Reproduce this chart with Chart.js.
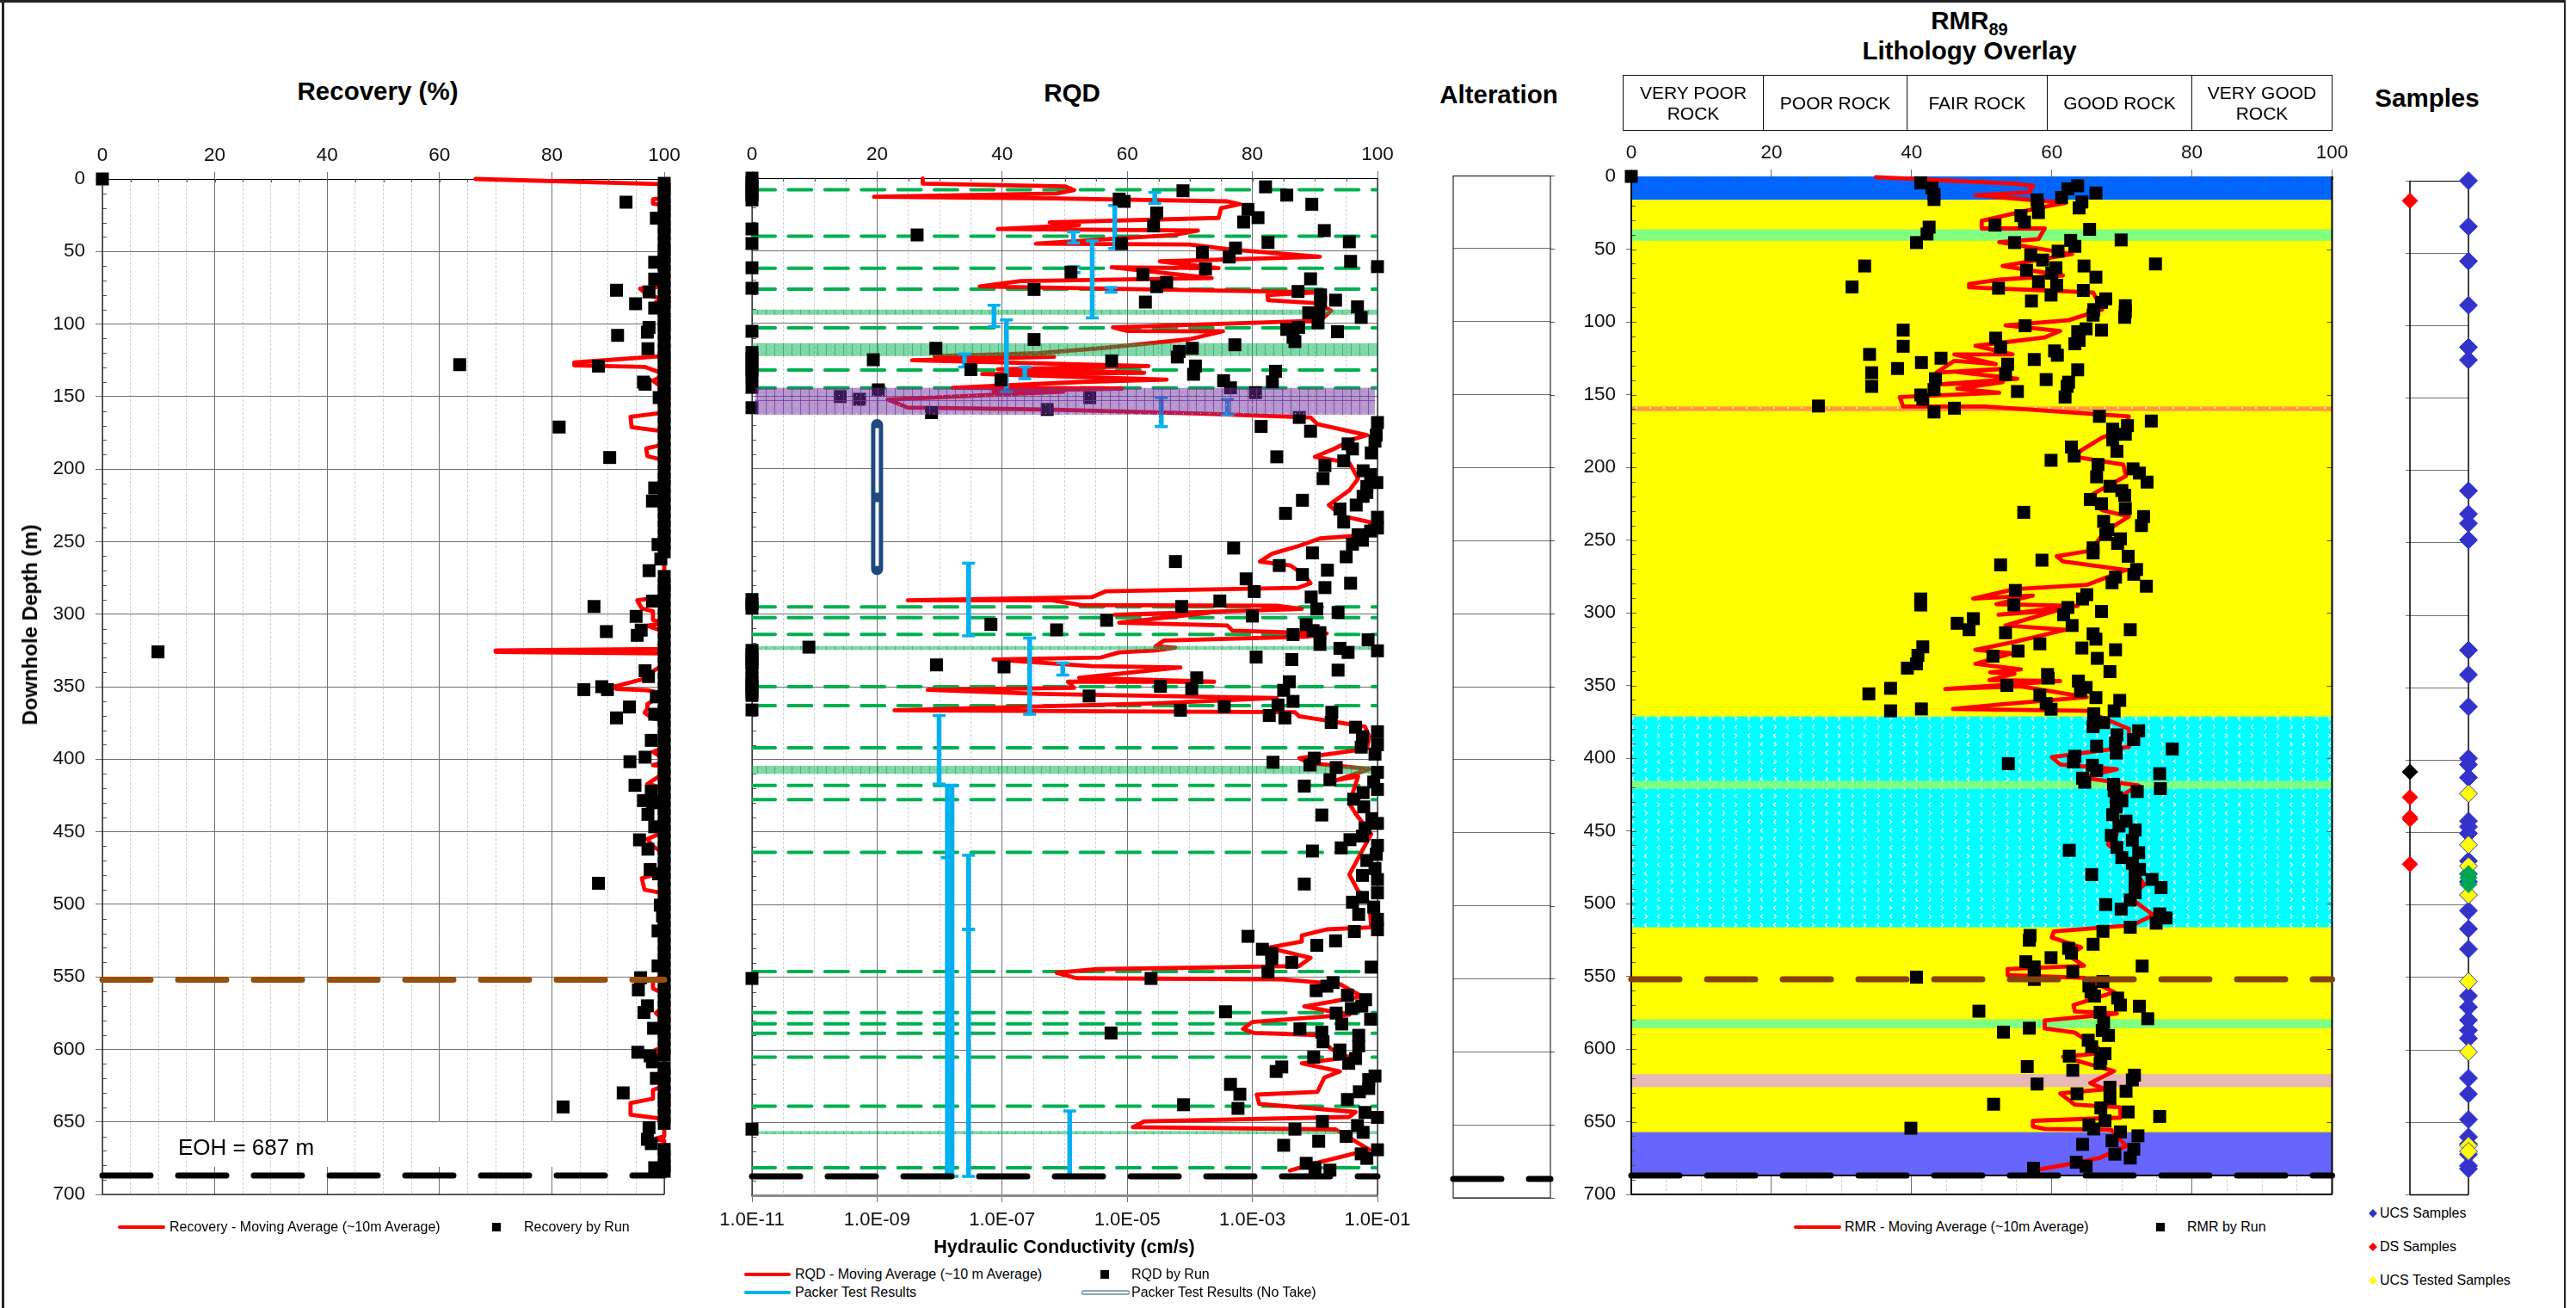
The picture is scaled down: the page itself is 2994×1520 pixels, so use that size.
<!DOCTYPE html>
<html>
<head>
<meta charset="utf-8">
<title>Drillhole log</title>
<script src="https://cdn.jsdelivr.net/npm/chart.js@4"></script>
<style>
  html, body { margin: 0; padding: 0; background: #fff; }
  #page { position: relative; width: 2994px; height: 1520px; overflow: hidden; font-family: "Liberation Sans", Arial, sans-serif; color: #000; }
  canvas { position: absolute; }
  .t { position: absolute; white-space: nowrap; transform: translate(-50%, -50%); text-align: center; }
  .title { font-weight: bold; font-size: 29.5px; }
  .leg { position: absolute; white-space: nowrap; font-size: 16px; line-height: 16px; transform: translateY(-50%); }
  .ln { position: absolute; height: 4px; border-radius: 2px; transform: translateY(-50%); }
  .sq { position: absolute; width: 10px; height: 10px; background: #000; transform: translate(-50%, -50%); }
  .di { position: absolute; width: 7px; height: 7px; transform: translate(-50%, -50%) rotate(45deg); }
  .cell { position: absolute; top: 87px; height: 65px; box-sizing: border-box; font-size: 21px; line-height: 24px; display: flex; align-items: center; justify-content: center; text-align: center; border: 1.5px solid #111; }
</style>
</head>
<body>
<div id="page">
  <!-- outer frame -->
  <div style="position:absolute;left:2px;top:0;width:2.5px;height:1520px;background:#222"></div>
  <div style="position:absolute;left:0;top:0;width:2982px;height:3px;background:#222"></div>
  <div style="position:absolute;left:2980px;top:0;width:2px;height:1520px;background:#222"></div>

  <canvas id="recoveryChart" width="770" height="1270" style="left:40px;top:150px"></canvas>
  <canvas id="rqdChart" width="820" height="1300" style="left:820px;top:150px"></canvas>
  <canvas id="alterationChart" width="140" height="1210" style="left:1680px;top:190px"></canvas>
  <canvas id="rmrChart" width="900" height="1250" style="left:1830px;top:150px"></canvas>
  <canvas id="samplesChart" width="110" height="1210" style="left:2780px;top:190px"></canvas>

  <!-- titles -->
  <div class="t title" style="left:439px;top:106px">Recovery (%)</div>
  <div class="t title" style="left:1246px;top:108px">RQD</div>
  <div class="t title" style="left:1742px;top:110px">Alteration</div>
  <div class="t title" style="left:2289px;top:24px">RMR<sub style="font-size:20px;line-height:0">89</sub></div>
  <div class="t title" style="left:2289px;top:59px">Lithology Overlay</div>
  <div class="t title" style="left:2821px;top:114px">Samples</div>
  <div class="t" style="left:35px;top:726px;font-weight:bold;font-size:24px;transform:translate(-50%,-50%) rotate(-90deg)">Downhole Depth (m)</div>
  <div class="t" style="left:286px;top:1333px;font-size:26px">EOH = 687 m</div>
  <div class="t" style="left:1237px;top:1449px;font-weight:bold;font-size:21.5px">Hydraulic Conductivity (cm/s)</div>

  <!-- rock class boxes -->
  <div class="cell" style="left:1886px;width:164px">VERY POOR<br>ROCK</div>
  <div class="cell" style="left:2049px;width:168px">POOR ROCK</div>
  <div class="cell" style="left:2216px;width:164px">FAIR ROCK</div>
  <div class="cell" style="left:2379px;width:169px">GOOD ROCK</div>
  <div class="cell" style="left:2547px;width:164px">VERY GOOD<br>ROCK</div>

  <!-- legends -->
  <div class="ln" style="left:137px;top:1426px;width:55px;background:#f00"></div>
  <div class="leg" style="left:197px;top:1426px">Recovery - Moving Average (~10m Average)</div>
  <div class="sq" style="left:577px;top:1426px"></div>
  <div class="leg" style="left:609px;top:1426px">Recovery by Run</div>

  <div class="ln" style="left:865px;top:1481px;width:54px;background:#f00"></div>
  <div class="leg" style="left:924px;top:1481px">RQD - Moving Average (~10 m Average)</div>
  <div class="sq" style="left:1284px;top:1481px"></div>
  <div class="leg" style="left:1315px;top:1481px">RQD by Run</div>
  <div class="ln" style="left:865px;top:1502px;width:54px;background:#00b0f0"></div>
  <div class="leg" style="left:924px;top:1502px">Packer Test Results</div>
  <div class="ln" style="left:1257px;top:1502px;width:54px;height:3px;background:#fff;border:1.5px solid #1f497d"></div>
  <div class="leg" style="left:1315px;top:1502px">Packer Test Results (No Take)</div>

  <div class="ln" style="left:2085px;top:1426px;width:55px;background:#f00"></div>
  <div class="leg" style="left:2144px;top:1426px">RMR - Moving Average (~10m Average)</div>
  <div class="sq" style="left:2511px;top:1426px"></div>
  <div class="leg" style="left:2542px;top:1426px">RMR by Run</div>

  <div class="di" style="left:2758px;top:1410px;background:#3333cc"></div>
  <div class="leg" style="left:2766px;top:1410px">UCS Samples</div>
  <div class="di" style="left:2758px;top:1449px;background:#f00"></div>
  <div class="leg" style="left:2766px;top:1449px">DS Samples</div>
  <div class="di" style="left:2758px;top:1488px;background:#ff0"></div>
  <div class="leg" style="left:2766px;top:1488px">UCS Tested Samples</div>
</div>

<script>
// Depth marks shared by the panels (m)
const eohDepth = 687;
const contactDepth = 552;

// Recovery: [recovery %, depth]
const recoveryRuns = [[0,0],[93.2,16],[98.6,27],[98.3,57.4],[98.3,69],[91.5,76.7],[97.3,77.8],[94.9,86],[98.3,89],[97.3,102.3],[97,105.6],[91.7,107.8],[97.1,117],[63.6,128],[88.3,129],[96.3,140],[96.6,141.5],[99.1,150.7],[81.3,171],[90.3,192],[98.3,213],[97.9,222],[98.9,252],[99.4,262],[97.3,270],[97.9,291],[87.5,294.7],[95,301.5],[95.9,311],[89.7,312],[95.2,314.6],[9.9,326],[96.6,339],[97.2,343],[85.7,352],[88.9,350],[89.9,352],[98.6,357],[93.8,364],[98.3,369],[91.5,371.5],[97.7,387],[96.6,398.6],[93.9,401.7],[94.8,418],[97.7,422],[96.3,428.5],[97.9,430],[97.1,438],[98.3,446.6],[95.6,455.6],[97.1,462],[97.5,476],[99,479],[88.3,485.5],[99.3,500.6],[99.7,508],[98.9,518.4],[98.9,542.5],[95.8,550.6],[95.4,559],[97,570],[96.4,574.6],[98.1,585.5],[95.3,602],[97.5,604.5],[97.9,608.6],[98.6,620],[92.7,630],[82,639.7],[97.3,654],[97,662],[97.7,665],[98.3,681.6]];
// runs with full recovery, depth only
const recoveryFullDepths = [3,7,12,18,22,28,33,38,44,49,53,59,64,70,75,81,85,91,97,101,106,112,118,123,127,133,137,143,148,153,158,164,169,175,180,186,191,196,202,207,212,218,224,229,235,240,246,251,257,274,280,284,290,296,301,307,312,318,323,329,334,340,345,351,356,362,367,373,378,384,390,395,400,406,411,417,423,428,434,439,445,450,456,461,467,472,478,483,489,495,500,505,511,516,522,528,533,538,544,549,555,560,566,571,577,582,588,593,599,604,613,618,624,630,635,640,646,651,669,674,680,684];
const recoveryAverage = [[66.4,0],[99,3.5],[100,5],[100,13],[98,14],[98,17],[100,18],[100,74],[95.7,75.6],[97,80],[100,83],[98.5,85],[100,88],[100,122],[84,126.5],[84,128.5],[96.5,129.5],[99,133],[100,135],[98,139],[99,142],[100,145],[100,161],[94,164],[94.2,171],[100,174],[100,183],[96.8,185.8],[97,191],[100,194],[100,288],[95.2,290.4],[96,296],[98,298],[98,304],[100,306],[97,308],[100,312],[100,324],[70,325],[70,326],[100,327],[100,335],[98.5,338],[96,345],[91,350],[91.5,351.5],[97,352.5],[99,354],[100,355],[97,362],[97,365],[96.5,368],[98,372],[100,373],[100,392],[98,395],[100,400],[100,402],[98,404],[100,405],[99,412],[97,417],[100,420],[100,450],[97,455],[98,460],[100,465],[100,478],[96,482],[96.5,490],[100,492.5],[100,548],[98,553],[98,558],[100,562],[100,570],[98.5,575],[100,580],[100,598],[97.5,602],[100,605],[100,625],[98,628],[98,634],[94,637],[94,645],[100,648],[100,660],[98,662],[100,663],[100,687]];

// RQD: [rqd %, depth]
const rqdRuns = [[82.1,6],[85.5,11.7],[89.5,18],[68.9,8.7],[58.7,14.4],[59.5,16],[79.3,21.5],[64.7,24],[80.9,27.2],[78.6,30.2],[64.2,32.9],[26.4,39.1],[91.5,36.1],[95.5,43.8],[82.5,44.3],[59.1,45.1],[77.3,48.1],[72,51.1],[76.3,54.3],[95.7,57.3],[100,60.9],[51,64.7],[72.5,62.5],[62.5,66.3],[89.3,69.3],[66.3,71.7],[64.7,74.7],[45.1,76.6],[87.3,78],[62.9,85.3],[90.9,80.4],[93.3,84],[90.9,85.3],[96.8,88.6],[97.4,95.9],[89,92.7],[90.6,92.7],[90.5,99.5],[87.4,102.7],[85.5,104.1],[93.6,105.7],[45.1,111.1],[86.5,109.5],[86.8,112.5],[77.2,114.7],[29.4,117.1],[70.4,117.1],[68.3,119.3],[68,123.1],[19.4,125],[57.5,125.8],[70.9,129.3],[35,131.8],[70.6,135],[83.7,132.9],[39.8,138.9],[83.2,140.2],[75.4,139.4],[76.5,144.3],[20.2,145.7],[14.1,150.3],[17.2,152.2],[54,151.1],[80.5,147.6],[47.2,159.2],[28.7,161.4],[87.5,164.7],[81.4,170.9],[89.3,174.2],[100,168.2],[99.8,176.9],[99.6,181],[95.3,182.9],[96,186.4],[99,189.1],[83.9,191.8],[94.6,194.6],[91.6,197.8],[91.3,206.8],[97.7,201.4],[98.9,204.1],[99.9,209.5],[98.3,212.2],[98.3,216.3],[97.7,219],[88,221.7],[96.6,225],[94,227.7],[85.3,230.7],[100,233.4],[94.6,236.7],[100,240.8],[98.9,242.9],[96.9,245.4],[97.6,249.2],[96,251.9],[77,254.6],[89.6,257.9],[95,260.6],[67.7,263.9],[84.3,266.6],[92,269.8],[88,272.8],[79,275.8],[95.7,278.8],[91.6,281.8],[80.3,284.5],[89.4,288.3],[74.8,291],[68.7,294.8],[90.3,296.5],[93.7,298.9],[80,301.4],[56.7,304.3],[38.2,307.1],[88.6,307.3],[48.7,310.9],[89.7,311.4],[86.5,314.1],[90.8,312.8],[90.8,320.9],[98.5,317.7],[94,323.6],[95.3,326.4],[100,325.3],[9.1,322.8],[80.6,329.6],[86.3,331.3],[29.5,335],[40.3,336.4],[93.7,338.6],[71.1,343.9],[85.9,346.6],[65.3,349.7],[70.3,351.4],[85,352.5],[53.9,356.4],[86.5,360.1],[84.1,362.6],[75.5,363.7],[68.5,366.2],[82.7,369.8],[85.2,371.5],[92.7,367.6],[92.6,374.6],[96.5,377.9],[100,381],[97.6,384.4],[97.4,391.6],[100,389.9],[99.6,396.4],[89.9,399.2],[83.3,402],[89.2,403.9],[93.4,405.6],[100,408.9],[92.4,414],[99.4,415.6],[88.3,418.4],[100,420.7],[97.7,422.9],[96.2,427.4],[97.8,432.7],[91.1,438.3],[99.1,440.8],[100,444.1],[98,447.2],[97.6,452.8],[95.6,455.3],[94.2,460.9],[100,459.2],[89.6,463.1],[99.8,465.4],[98.3,469.6],[99.6,475.1],[97.6,479.9],[88.3,485.8],[100,482.7],[100,491.9],[97.6,495],[96,498.3],[99.4,501.7],[97,506.7],[100,510.1],[100,517.3],[96.3,518.5],[79.3,521.8],[93.3,524.9],[90.3,528],[81.6,530.7],[83.1,533.5],[83.1,537.4],[86.3,539.7],[99,543],[82.5,546.4],[63.8,550.8],[92.9,553.6],[91.9,556.1],[90.2,559.2],[95.2,562.3],[98.1,565.4],[97.5,569.8],[95.8,571.5],[75.7,573.7],[93.4,574.6],[98.9,578.8],[94.3,582.1],[87.6,585.5],[57.4,588.3],[91.1,587.7],[91.3,594.4],[97,589.9],[97,597.2],[94,600],[93.9,602.8],[89.8,605],[96.5,605.9],[95.4,609.2],[84.7,611.7],[83.8,614.8],[99.6,617.9],[98.6,620.4],[76.5,623.7],[98.6,626.5],[78,630.4],[97.1,628.8],[95.2,634.1],[69,637.7],[77.7,640.2],[98,643],[100,646.4],[91.2,649.2],[96.8,652],[86.8,654.5],[97.7,656.7],[95,659.5],[90.6,662.8],[85,665.6],[100,668.7],[97.4,671.5],[98.3,674.6],[88.6,678],[90,681],[92.4,682.7]];
const rqdZeroDepths = [0,3,6,9,12,15,35,45,61.7,75.8,105.4,120,124,128,132,136,144,158,290,293,296,325,328,331,334,337,344,347,350,353,356,366,550.8,654.5];
const rqdAverage = [[27.3,0.3],[27.3,3.8],[50.1,5.7],[51.5,8.2],[48.7,10.6],[19.5,12.8],[48.7,14],[76,16],[78,17.9],[75,20.7],[74.6,27.4],[47.6,30.4],[52.3,32.3],[39.3,35],[71.3,36.1],[67.4,39.1],[45.4,45.1],[69.9,45.7],[76.8,49.2],[90.8,54.1],[65.2,57.3],[74.6,62],[57.5,61.4],[73.5,68.8],[42.9,70.9],[36.4,74.5],[82.1,78],[90.6,78.5],[82.4,80.4],[82.5,84],[90.4,86.1],[92.6,91.3],[90.8,98.1],[57.7,102.7],[60,105.2],[75.3,105.4],[69.9,110.9],[55.8,117],[45.8,120.4],[29.2,122.6],[48.3,123],[25.6,125.3],[63.4,129.3],[39.3,131.5],[62.7,134],[36.8,134.8],[66.3,138.6],[53,140.2],[32.1,144.3],[59.1,144.8],[38.6,146.5],[49.8,147],[21.7,152.4],[24.9,157.9],[47.2,159.2],[71.7,162],[89.3,164.7],[90.4,169.3],[98.3,176.9],[96.2,179.6],[93,186.4],[90,191.8],[95.5,195.9],[96.9,206.8],[95.5,214.9],[92.2,225],[94.4,232.6],[98.7,236.7],[99,240.8],[96.5,246.2],[90.8,248],[87.5,253],[83.2,258.4],[81.2,263.9],[86.1,266.6],[88.3,273.4],[89.3,278.8],[87.2,282],[56.6,284.3],[54.4,288.3],[24.9,290.5],[48,290.5],[52.6,293.8],[83.9,294.3],[87.9,296.5],[58,300.5],[73.1,299.2],[58.7,306],[76,307.9],[76.8,311.4],[91.9,313.3],[89,315.5],[65.9,318.2],[64.5,322.3],[67.7,323.1],[64.5,325],[58.7,326.4],[55.8,329.9],[38.6,331.3],[54.4,335.9],[68.5,336.7],[52.3,343.9],[73.9,346.6],[50.5,346.6],[51.5,350.8],[28.1,352.2],[46.1,355],[83.9,357.8],[64.5,361.5],[22.8,366.2],[57.3,367],[86.8,367.6],[87.5,370.4],[98,377.4],[98.7,384.4],[98.3,392.7],[87.5,399.2],[89,402.5],[98.7,406.7],[93.3,414.5],[96.9,411.7],[95.5,430.4],[96.5,437.4],[99,451.4],[95.5,479.3],[96.9,490.5],[98.7,498.9],[99,515.6],[91.9,517],[87.9,521.2],[87.9,525.4],[82.5,529.6],[89.3,536.6],[87.5,542.2],[55.2,544.4],[48.7,546.9],[51.9,550.6],[84.7,551.4],[94,554.7],[97.5,563.1],[88.3,570.1],[95.5,575.7],[80,580.7],[78.5,585.5],[80.3,588.3],[90.4,589.7],[92.6,599.4],[95.5,605],[87.9,609.2],[94,614.8],[91.5,619],[90.4,628.8],[80.7,630.7],[81.1,637.2],[96.5,642.7],[95.5,646.1],[62.7,649.2],[60.9,653.1],[93.3,654.7],[98.7,668.7],[90.4,677.6],[86,683]];

// Structures logged in the RQD panel (depth, m)
const faultDepths = [8,40,62,76.4,103,132,144.3,295,302.5,314,350,363,392,418,427.7,464,546,574.3,582,588.5,605,638.7,681];
const faultZoneFrom = [90.5,113.6,322,404.5,655.8];
const faultZoneTo = [94,122.5,324.7,410,658];
const alteredFrom = 144.3;
const alteredTo = 162.8;

// Packer tests: conductivity (cm/s) and interval (m)
const kTicks = [1e-11,1e-9,1e-7,1e-5,1e-3,1e-1];
const kTickLabels = ['1.0E-11','1.0E-09','1.0E-07','1.0E-05','1.0E-03','1.0E-01'];
const packerK = [2.75e-5,6.3e-6,1.38e-6,2.75e-6,1.41e-6,5.5e-6,7.4e-8,1.17e-7,2.5e-8,2.3e-7,3.5e-5,4e-4,2.9e-8,2.75e-7,9.3e-7,9.8e-9,1.33e-8,1.33e-8,1.58e-8,2.9e-8,2.9e-8,1.2e-6];
const packerFrom = [9.8,18.8,37,43.2,61,75.3,87.5,97.6,121,130,151,152.4,265,316.5,333.7,369.8,418,467.6,418,466,517,642];
const packerTo = [17.4,48.4,44.6,96.2,65,78.5,102.2,147,130,138,171,162.8,315,369,342,417,467.6,687,687,517,687,687];
const noTakeK = 1e-9;
const noTakeDepths = [170,219.8,269];
const noTakeInnerFrom = [172,223];
const noTakeInnerTo = [216.5,267];

// RMR: [rmr, depth]
const rmrRuns = [[0,0],[41.3,4.4],[63.7,6.5],[42.9,7.9],[62.3,8.5],[66.3,11.4],[43.2,12.3],[61.4,14.4],[43.2,15.9],[57.9,16.1],[64.3,17.6],[63.9,21.7],[58,19.7],[58.1,24.9],[55.6,27],[56.1,31.4],[42.5,34.9],[51.9,33.5],[65.4,36.4],[42.2,39.6],[62.7,44],[69.9,43.7],[54.7,45.5],[40.7,45.5],[63.3,48.1],[60.9,51.4],[57,54],[58.7,57.5],[33.3,61.6],[74.8,60.2],[64.6,61.6],[60.6,62.8],[56.4,64.6],[60,66.6],[66.3,69.3],[58.1,72.5],[60.7,74.8],[31.5,76],[52.4,76.9],[64.5,78.4],[59.9,81.6],[67.7,84.2],[67.1,86.6],[57.1,85.7],[70.5,88.9],[66,91.6],[70.5,93],[65.9,95.4],[70.4,96.9],[56.2,102.7],[64.9,104.8],[38.8,105.7],[67.1,105.7],[63.7,106.8],[52,111.2],[63.9,112.7],[63.3,115.1],[38.8,116.8],[52.7,117.4],[60.4,120],[60.8,123],[34,122.4],[44.2,125],[57.5,125.9],[41.4,128],[53.7,129.1],[38,132.1],[63.7,133],[34.3,135],[53.4,136.2],[43.4,139.1],[59.2,139.7],[62.4,141.5],[34.3,144.4],[62.2,144.4],[43.2,146.5],[55.1,147.9],[61.9,151.7],[41.3,150.3],[41.6,153.2],[26.7,157.9],[46.1,159.4],[43.2,162],[66.8,165],[74.2,168.2],[70.8,171.4],[68.7,173.8],[70.5,177.3],[68.7,181.1],[62.8,186.1],[69.3,189],[63.2,192.3],[59.9,195.2],[66.6,198.1],[71.6,201.1],[72.5,204],[66.4,206.6],[73.6,210.2],[68.3,213.1],[70,216],[70.4,219.3],[65.5,222.2],[67.1,225.1],[70.5,228.4],[56,231],[73.1,233.9],[67.4,237.2],[72.8,240.1],[68,243],[67.7,246.3],[69.8,249.2],[69.4,252.4],[65.9,255.4],[65.9,258.9],[70.9,261.2],[58.6,263.9],[52.7,267.1],[72.1,270.3],[71.7,273.6],[69.1,275.6],[68.6,279.4],[73.5,281.8],[54.8,284.7],[65,287.6],[64.4,290.6],[41.3,290.6],[41.3,294.7],[54.6,294.7],[62.3,296.4],[67.1,299.1],[61.7,301.4],[48.8,304.1],[46.5,307.3],[62.9,308.8],[48.2,311.7],[71.2,311.7],[53.4,313.8],[65.9,314.6],[66.3,318.2],[58.3,321.4],[41.6,323.5],[64.3,324.3],[69.1,325.5],[55.2,326.4],[40.9,329.3],[51.6,329.9],[66.5,331.4],[40.7,335.2],[39.4,338.1],[68.3,340.5],[59.4,342.5],[59.5,345],[63.8,347],[64.9,351.4],[53.6,350],[37,352],[64.1,353.9],[33.9,355.8],[58.3,356.7],[66.3,358.4],[69.7,360.3],[59.2,362.5],[59.9,366.4],[37,367.5],[41.4,366.2],[68.9,367.5],[66,369.5],[66,373.7],[67.4,375.6],[65.9,378.4],[72.4,381.2],[69.3,384],[71.7,387.3],[69.1,389.6],[77.2,393.7],[66.4,391.8],[69.2,396.5],[63.3,398.7],[63.1,402.6],[53.8,403.8],[65.8,404.9],[66.4,408.5],[75.4,410.7],[64.4,413.8],[64.7,416.6],[68.8,418],[75.5,421],[72.2,423],[68.9,422.4],[69.2,427.2],[70,429.4],[69.2,433.6],[68.7,438.9],[70.6,443.3],[69.6,446.7],[71.9,449.4],[68.5,453.1],[71.5,456.4],[69.3,461.4],[62.5,463.4],[72.4,465],[70,468.4],[71.5,472.3],[72.5,476.5],[71.9,479.5],[65.7,480.1],[74.3,483.4],[71.9,487],[75.6,489],[71.9,492.6],[71.2,497.6],[67.7,500.7],[69.9,503.8],[75.4,507.1],[76.3,509.9],[74.9,513.5],[71.2,516.3],[67.3,519.1],[56.9,521.9],[56.8,525.2],[65.9,528],[62.4,530.8],[62.8,534.1],[59.9,537.2],[56.3,540],[72.9,543],[57.5,543.6],[57.5,548.3],[63,546.9],[40.7,550.6],[57.5,552.2],[67.3,553.6],[65.3,556.7],[65.6,560.9],[66.1,563.6],[69.4,565],[69.8,569.8],[72.5,570.6],[49.6,574],[66.9,574.8],[73.7,579.2],[67.4,581.8],[56.8,585.7],[53.1,588.4],[67.2,587.3],[68.1,590.7],[65.2,594],[65.7,598.5],[67.6,603.2],[62.5,604.9],[67,606.8],[66.9,609.9],[56.5,612.1],[63,614.6],[71.8,618],[71.5,621.3],[57.9,624.1],[68.3,626.3],[70.6,629.1],[63.6,630.8],[68.3,634.1],[51.7,638],[67,640.5],[70.9,643.3],[75.4,646.4],[67.6,649.4],[65.3,652.2],[39.9,654.5],[66,655],[69.8,657],[72.3,659.7],[68.6,663.1],[64.4,665.6],[71.7,668.9],[69,672.3],[71.2,675],[63.5,677.9],[64.9,680.6],[57.4,682]];
const rmrAverage = [[34.9,0.5],[54.6,5],[57.3,6.5],[56.8,10.9],[49.1,12.9],[62,18.2],[58.1,21.7],[50,30.5],[50,35.8],[59,35.8],[58.1,43.1],[52.5,45.2],[62.9,53.4],[53,61.6],[61.6,68.1],[52.5,71],[48.2,74],[48.2,76.3],[65.9,79.8],[67.2,91.6],[62.4,98.9],[53.4,102.4],[61.2,106.3],[59,110.7],[53,114.2],[49.1,116.5],[54.4,122.4],[46.1,122.4],[52,129.1],[46.1,126.8],[43.5,135],[53.8,132.1],[46.5,134.5],[55.1,139.1],[44.3,142.9],[53,141.5],[46.5,145.9],[52.5,148.8],[38.3,151.7],[38.8,158.2],[50.4,158.2],[71,165],[70.2,173.8],[67.2,179.6],[64.2,188.4],[63.3,192.8],[70.2,198.1],[70.6,206],[65,220.7],[67.2,229.5],[71,233.9],[67.6,244.2],[65.5,257.4],[60.7,261.2],[61.6,264.7],[70.6,270.6],[65,280.9],[54.7,283.8],[48.8,290.3],[57.3,288.2],[52.1,294.1],[63.7,295.3],[52.4,301.4],[60.7,298.5],[53.4,308.8],[62,311.7],[54.7,320],[49.1,325.5],[54.3,327.9],[49.1,335.2],[55.6,339],[51.2,341],[54.7,342],[51.1,346.4],[61.2,347],[44.8,352.5],[55.6,350.6],[65,358],[53,363],[45.9,366.2],[65.9,367.5],[66.8,371.4],[71,379.8],[71,392.3],[60,399.3],[61.2,404.3],[69.3,407.7],[64.2,413.2],[72.4,418.8],[68.5,429.9],[69.3,452.2],[68,459.2],[71,471.7],[73.2,487],[71,495.4],[74.5,507.9],[71.5,514.9],[60.3,519.1],[60,523.3],[64.2,530.2],[62.4,535.8],[64.6,542.8],[53.7,545],[53.7,549.2],[64.6,551.1],[68.9,560.9],[63.1,569.8],[63.3,574.2],[69.3,575.6],[59,580.4],[59,585.9],[63.3,588.7],[67.6,602.6],[61.6,605.4],[68.9,615.2],[65.5,623.5],[67.6,627.7],[61.2,630.5],[63.3,638.3],[69.8,640.2],[69.8,647.2],[57.3,649.4],[57.3,653.3],[59,655],[68.5,655.6],[70.6,666.7],[66.8,675],[61.6,680],[58.1,682.9]];

// Lithology overlay
const lithologyFrom = [0,16,36.4,158.2,371.4,415.7,517,579.5,617.3,657.2];
const lithologyTo = [16,687,44.3,161.4,516.3,421,579.5,585.7,626.2,687];
const lithologyType = ['overburden','host','shear','dyke','intrusive','shear','host','shear','gouge','basement'];

// Samples (depth, m)
const ucsDepths = [0,31.6,55.5,86,115,123.7,214,230,236.5,248,324,341,363,398.7,403,412,442,446,450.5,469.6,478.6,484,503.8,516.4,530.4,562.6,570.4,579.4,586.4,592,619.5,630.4,648,660,665,672,680,682];
const ucsTestedDepths = [423,458.4,473,493,552.8,601.3,666,670];
const dsDepths = [13.9,425.6,439.4,440.8,471.8];
const dsOtherDepths = [408];
const ucsOtherDepths = [478.6,481,485.6];

// Colors
const MAJOR = '#707070';
const MINOR = '#cfcfcf';
const RED = '#ff0000';
const TEXT = '#111';
const tickFont = { family: '"Liberation Sans", Arial, sans-serif', size: 22.5 };

const toPoints = rows => rows.map(r => ({ x: r[0], y: r[1] }));
const atX = (x, depths) => depths.map(y => ({ x: x, y: y }));

// Small canvas tiles for hatched bands
function makePattern(w, h, paint) {
  const tile = document.createElement('canvas');
  tile.width = w;
  tile.height = h;
  paint(tile.getContext('2d'));
  return tile.getContext('2d').createPattern(tile, 'repeat');
}

const greenHatch = makePattern(10, 6, c => {
  c.fillStyle = 'rgba(0,176,80,0.5)';
  c.fillRect(0, 0, 10, 6);
  c.fillStyle = 'rgba(0,140,60,0.45)';
  c.fillRect(0, 0, 1, 6);
  c.fillStyle = 'rgba(255,255,255,0.35)';
  c.fillRect(3, 1, 1, 1);
  c.fillRect(7, 4, 1, 1);
});
const purpleHatch = makePattern(10, 21, c => {
  c.fillStyle = 'rgba(112,48,160,0.5)';
  c.fillRect(0, 0, 10, 21);
  c.fillStyle = 'rgba(112,48,160,0.7)';
  c.fillRect(0, 0, 1, 21);
  c.fillRect(0, 0, 10, 1);
  c.fillStyle = 'rgba(255,255,255,0.7)';
  c.fillRect(5, 5, 1, 1);
  c.fillRect(5, 15, 1, 1);
});
const cyanChevrons = makePattern(30, 20, c => {
  c.fillStyle = '#00ffff';
  c.fillRect(0, 0, 30, 20);
  c.strokeStyle = '#e8ffff';
  c.lineWidth = 1.4;
  const chevron = (x, y, d) => {
    c.beginPath();
    c.moveTo(x, y - 2.5);
    c.lineTo(x + d * 2.5, y);
    c.lineTo(x, y + 2.5);
    c.stroke();
  };
  chevron(6, 5, 1);
  chevron(24, 5, -1);
  chevron(22, 15, 1);
  chevron(9, 15, -1);
});
const orangeDots = makePattern(16, 11, c => {
  c.fillStyle = '#ff9a3c';
  c.fillRect(0, 0, 16, 11);
  c.fillStyle = '#ffe0c0';
  c.fillRect(7, 4, 2, 2);
});
const lithologyFill = {
  overburden: '#0066ff',
  host: '#ffff00',
  shear: '#80ff80',
  dyke: orangeDots,
  intrusive: cyanChevrons,
  gouge: '#e6b8b7',
  basement: '#6666ff'
};

// Everything the axes do not draw by themselves: bands, inside ticks, panel frame.
function panelDetails(cfg) {
  return {
    id: 'panelDetails',
    beforeDatasetsDraw(chart) {
      const ctx = chart.ctx;
      const a = chart.chartArea;
      const y = chart.scales.y;
      const x = chart.scales.x;
      ctx.save();
      (cfg.bands || []).forEach(b => {
        ctx.fillStyle = b.fill;
        const top = y.getPixelForValue(b.from);
        ctx.fillRect(a.left, top, a.right - a.left, y.getPixelForValue(b.to) - top);
      });
      if (cfg.gridGap) {
        ctx.strokeStyle = '#fff';
        ctx.lineWidth = 3;
        cfg.gridGap.values.forEach(v => {
          ctx.beginPath();
          ctx.moveTo(x.getPixelForValue(v), y.getPixelForValue(cfg.gridGap.from));
          ctx.lineTo(x.getPixelForValue(v), y.getPixelForValue(cfg.gridGap.to));
          ctx.stroke();
        });
      }
      ctx.lineWidth = 1;
      ctx.strokeStyle = '#555';
      y.ticks.forEach(t => {
        const py = Math.round(y.getPixelForValue(t.value)) + 0.5;
        if (cfg.innerDepthTicks && t.value % 50 !== 0) {
          ctx.beginPath();
          ctx.moveTo(a.left, py);
          ctx.lineTo(a.left + 5, py);
          ctx.stroke();
        }
        if (cfg.innerDepthTicks && t.value % 50 === 0 && cfg.bands) {
          ctx.beginPath();
          ctx.moveTo(a.left, py);
          ctx.lineTo(a.left + 6, py);
          ctx.moveTo(a.right - 6, py);
          ctx.lineTo(a.right, py);
          ctx.stroke();
        }
        if (cfg.rightTicks && t.value % 50 === 0) {
          ctx.beginPath();
          ctx.moveTo(a.right, py);
          ctx.lineTo(a.right + cfg.rightTicks, py);
          ctx.stroke();
        }
      });
      if (cfg.innerTopTicks) {
        x.ticks.forEach(t => {
          const px = Math.round(x.getPixelForValue(t.value)) + 0.5;
          ctx.beginPath();
          ctx.moveTo(px, a.top);
          ctx.lineTo(px, a.top + 4);
          ctx.stroke();
        });
      }
      ctx.strokeStyle = cfg.frameColor || '#000';
      ctx.lineWidth = cfg.frameWidth || 1;
      ctx.beginPath();
      if (cfg.frameSides !== 'sides') {
        ctx.moveTo(a.left, a.bottom);
        ctx.lineTo(a.right, a.bottom);
      }
      ctx.moveTo(a.left, a.top);
      ctx.lineTo(a.left, a.bottom);
      ctx.moveTo(a.right, a.top);
      ctx.lineTo(a.right, a.bottom);
      ctx.stroke();
      ctx.restore();
    },
    afterDatasetDraw(chart, args) {
      const label = chart.data.datasets[args.index].label;
      const over = (cfg.overlays || []).filter(o => o.after === label);
      if (!over.length) return;
      const ctx = chart.ctx;
      const a = chart.chartArea;
      const x = chart.scales.x;
      const y = chart.scales.y;
      ctx.save();
      over.forEach(o => {
        ctx.fillStyle = o.fill;
        const left = x.getPixelForValue(o.xFrom);
        const top = y.getPixelForValue(o.from);
        ctx.fillRect(left, top, x.getPixelForValue(o.xTo) - left, y.getPixelForValue(o.to) - top);
      });
      ctx.restore();
    }
  };
}

function depthAxis(width, showLabels, tickLength) {
  return {
    type: 'linear',
    reverse: true,
    min: 0,
    max: 700,
    afterFit(s) {
      s.width = width;
      s.paddingTop = 0;
      s.paddingBottom = 0;
    },
    ticks: {
      stepSize: 10,
      autoSkip: false,
      maxRotation: 0,
      padding: 12,
      color: TEXT,
      font: tickFont,
      callback: v => (showLabels && v % 50 === 0 ? String(v) : '')
    },
    grid: {
      tickLength: tickLength,
      lineWidth: 1,
      color: c => (c.tick && c.tick.value % 50 === 0 ? MAJOR : 'transparent'),
      tickColor: c => (c.tick && c.tick.value % 50 === 0 ? MAJOR : 'transparent')
    },
    border: { display: false }
  };
}

function percentAxis(height) {
  return {
    type: 'linear',
    position: 'top',
    min: 0,
    max: 100,
    afterFit(s) {
      s.height = height;
      s.paddingLeft = 0;
      s.paddingRight = 0;
    },
    ticks: {
      stepSize: 5,
      autoSkip: false,
      maxRotation: 0,
      padding: 6,
      color: TEXT,
      font: tickFont,
      callback: v => (v % 20 === 0 ? String(v) : '')
    },
    grid: {
      tickLength: 8,
      lineWidth: 1,
      color: c => (c.tick && c.tick.value % 20 === 0 ? MAJOR : MINOR),
      tickColor: c => (c.tick && c.tick.value % 20 === 0 ? MAJOR : 'transparent')
    },
    border: {
      color: '#000',
      dash: c => (c.tick && c.tick.value % 20 !== 0 ? [3, 2] : [])
    }
  };
}

// Axes for the two panels that show no scale numbers
function blankTopAxis(height, max) {
  return {
    type: 'linear',
    position: 'top',
    min: 0,
    max: max,
    afterFit(s) {
      s.height = height;
      s.paddingLeft = 0;
      s.paddingRight = 0;
    },
    ticks: { display: false },
    grid: { display: false },
    border: { color: '#000' }
  };
}

function averageLine(label, rows) {
  return {
    label: label,
    data: toPoints(rows),
    showLine: true,
    borderColor: RED,
    backgroundColor: RED,
    borderWidth: 4.8,
    borderCapStyle: 'round',
    borderJoinStyle: 'round',
    pointRadius: 0,
    clip: false,
    order: 5
  };
}

function runMarks(label, points) {
  return {
    label: label,
    data: points,
    pointStyle: 'rect',
    pointRadius: 10.6,
    pointBorderWidth: 0,
    pointBackgroundColor: '#000',
    backgroundColor: '#000',
    borderColor: '#000',
    clip: false,
    order: 2
  };
}

function depthDash(label, depth, color) {
  return {
    label: label,
    data: atX(0, [depth]).concat(atX(100, [depth])),
    showLine: true,
    borderColor: color,
    borderWidth: 7,
    borderDash: [56, 32],
    borderCapStyle: 'round',
    pointRadius: 0,
    clip: false,
    order: 1
  };
}

function baseOptions(scales, padding) {
  return {
    responsive: false,
    maintainAspectRatio: false,
    devicePixelRatio: 1,
    animation: false,
    events: [],
    layout: { padding: padding },
    plugins: { legend: { display: false }, tooltip: { enabled: false } },
    scales: scales
  };
}

// Recovery panel
new Chart(document.getElementById('recoveryChart'), {
  type: 'scatter',
  data: {
    datasets: [
      depthDash('EOH', eohDepth, '#000'),
      depthDash('Contact', contactDepth, '#974f0c'),
      runMarks('Recovery by Run', toPoints(recoveryRuns).concat(atX(100, recoveryFullDepths))),
      averageLine('Recovery - Moving Average', recoveryAverage)
    ]
  },
  options: baseOptions({ x: percentAxis(58), y: depthAxis(79, true, 8) }, { top: 0, left: 0, right: 38, bottom: 32 }),
  plugins: [panelDetails({
    innerDepthTicks: true,
    innerTopTicks: true,
    gridGap: { values: [20, 40, 60, 80], from: 650, to: 681 }
  })]
});

// RQD panel, packer tests on the log axis
const packerSets = packerK.map((k, i) => ({
  label: 'Packer Test Results',
  data: atX(k, [packerFrom[i], packerTo[i]]),
  xAxisID: 'k',
  showLine: true,
  borderColor: '#00b0f0',
  borderWidth: 5.5,
  pointStyle: 'line',
  pointRadius: 7.5,
  pointBorderWidth: 3.5,
  pointBorderColor: '#00b0f0',
  clip: false,
  order: 4
}));
const noTakeInner = noTakeInnerFrom.map((from, i) => ({
  label: 'No Take inner',
  data: atX(noTakeK, [from, noTakeInnerTo[i]]),
  xAxisID: 'k',
  showLine: true,
  borderColor: '#fff',
  borderWidth: 4,
  pointRadius: 0,
  order: 3
}));

new Chart(document.getElementById('rqdChart'), {
  type: 'scatter',
  data: {
    datasets: [
      depthDash('EOH', eohDepth, '#000'),
      runMarks('RQD by Run', toPoints(rqdRuns).concat(atX(0, rqdZeroDepths))),
      ...noTakeInner,
      {
        label: 'Packer Test Results (No Take)',
        data: atX(noTakeK, noTakeDepths),
        xAxisID: 'k',
        showLine: true,
        borderColor: '#1f497d',
        borderWidth: 14,
        borderCapStyle: 'round',
        pointRadius: 0,
        order: 3.5
      },
      ...packerSets,
      averageLine('RQD - Moving Average', rqdAverage),
      ...faultDepths.map(d => ({
        label: 'Fault',
        data: atX(0, [d]).concat(atX(100, [d])),
        showLine: true,
        borderColor: '#00b050',
        borderWidth: 4,
        borderDash: [27, 15.4],
        borderCapStyle: 'round',
        pointRadius: 0,
        order: 6
      }))
    ]
  },
  options: baseOptions({
    x: percentAxis(57),
    y: depthAxis(54, false, 0),
    k: {
      type: 'logarithmic',
      position: 'bottom',
      min: 1e-11,
      max: 1e-1,
      afterBuildTicks(s) {
        s.ticks = kTicks.map(v => ({ value: v }));
      },
      afterFit(s) {
        s.height = 61;
        s.paddingLeft = 0;
        s.paddingRight = 0;
      },
      ticks: {
        autoSkip: false,
        maxRotation: 0,
        padding: 8,
        color: TEXT,
        font: { family: tickFont.family, size: 22 },
        callback: (v, i) => kTickLabels[i]
      },
      grid: { drawOnChartArea: false, tickLength: 8, tickColor: MAJOR },
      border: { color: '#8c8c8c', width: 3 }
    }
  }, { top: 0, left: 0, right: 39, bottom: 0 }),
  plugins: [panelDetails({
    innerDepthTicks: true,
    innerTopTicks: true,
    frameSides: 'sides',
    overlays: faultZoneFrom.map((from, i) => ({
      after: 'RQD - Moving Average',
      from: from,
      to: faultZoneTo[i],
      xFrom: 0,
      xTo: 100,
      fill: greenHatch
    })).concat([{
      after: 'RQD by Run',
      from: alteredFrom,
      to: alteredTo,
      xFrom: 0.5,
      xTo: 99.6,
      fill: purpleHatch
    }])
  })]
});

// Alteration panel: empty column with the end of hole mark
new Chart(document.getElementById('alterationChart'), {
  type: 'scatter',
  data: { datasets: [depthDash('EOH', eohDepth, '#000')] },
  options: baseOptions({ x: blankTopAxis(14, 100), y: depthAxis(9, false, 0) }, { top: 0, left: 0, right: 18, bottom: 8 }),
  plugins: [panelDetails({ rightTicks: 5 })]
});

// RMR panel
new Chart(document.getElementById('rmrChart'), {
  type: 'scatter',
  data: {
    datasets: [
      depthDash('EOH', eohDepth, '#000'),
      depthDash('Contact', contactDepth, '#843f0b'),
      {
        label: 'EOH line',
        data: atX(0, [eohDepth]).concat(atX(100, [eohDepth])),
        showLine: true,
        borderColor: '#000',
        borderWidth: 2,
        pointRadius: 0,
        order: 1.5
      },
      runMarks('RMR by Run', toPoints(rmrRuns)),
      averageLine('RMR - Moving Average', rmrAverage)
    ]
  },
  options: baseOptions({ x: percentAxis(55), y: depthAxis(66, true, 6) }, { top: 0, left: 0, right: 19.5, bottom: 12 }),
  plugins: [panelDetails({
    innerDepthTicks: true,
    innerTopTicks: true,
    frameWidth: 2,
    bands: lithologyFrom.map((from, i) => ({ from: from, to: lithologyTo[i], fill: lithologyFill[lithologyType[i]] }))
  })]
});

// Samples panel
function sampleMarks(label, x, depths, fill, stroke, radius, order) {
  return {
    label: label,
    data: atX(x, depths),
    pointStyle: 'rectRot',
    pointRadius: radius,
    pointBackgroundColor: fill,
    pointBorderColor: stroke,
    pointBorderWidth: 1,
    clip: false,
    order: order
  };
}

new Chart(document.getElementById('samplesChart'), {
  type: 'scatter',
  data: {
    datasets: [
      sampleMarks('UCS Samples', 1, ucsDepths, '#3333cc', '#3333cc', 10.5, 3),
      sampleMarks('UCS Tested Samples', 1, ucsTestedDepths, '#ffff00', '#3333cc', 10.5, 2),
      sampleMarks('Other UCS Samples', 1, ucsOtherDepths, '#00a651', '#00a651', 10, 1),
      sampleMarks('DS Samples', 0, dsDepths, '#ff0000', '#ff0000', 9, 3),
      sampleMarks('Other DS Samples', 0, dsOtherDepths, '#000', '#000', 9, 3)
    ]
  },
  options: baseOptions({ x: blankTopAxis(20, 1), y: depthAxis(21, false, 5) }, { top: 0, left: 0, right: 21, bottom: 11 }),
  plugins: [panelDetails({ frameWidth: 1.5 })]
});
</script>
</body>
</html>
